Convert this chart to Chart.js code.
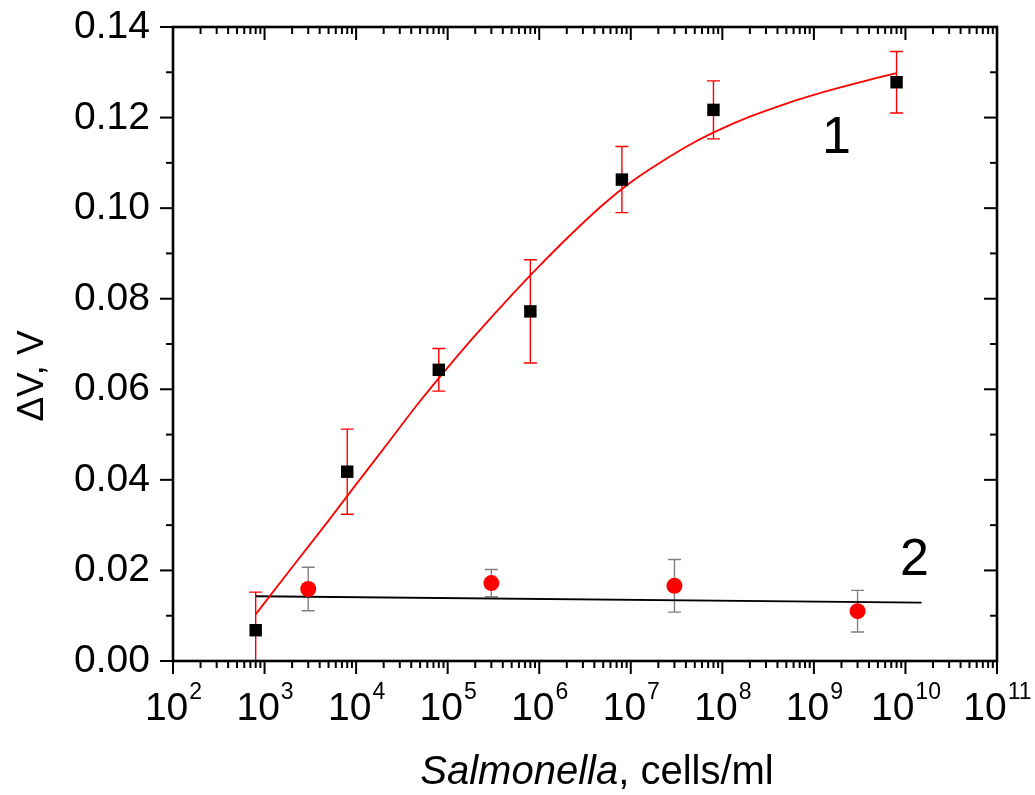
<!DOCTYPE html>
<html>
<head>
<meta charset="utf-8">
<title>Salmonella response</title>
<script src="https://cdn.jsdelivr.net/npm/chart.js@4.4.1/dist/chart.umd.min.js"></script>
<style>
    html, body { margin: 0; padding: 0; background: #fff; }
    canvas { display: block; }
</style>
</head>
<body>
<canvas id="responseChart" width="1035" height="795"></canvas>
<script>
// Curve 1: sensor response (mean and error)
const conc1 = [8e2, 8e3, 8e4, 8e5, 8e6, 8e7, 8e9];
const dv1 = [0.0068, 0.0418, 0.0643, 0.0772, 0.1063, 0.1217, 0.1278];
const err1 = [0.0084, 0.0094, 0.0047, 0.0114, 0.0073, 0.0064, 0.0068];

// Curve 2: control
const conc2 = [3e3, 3e5, 3e7, 3e9];
const dv2 = [0.0159, 0.0172, 0.0166, 0.0110];
const err2 = [0.0048, 0.0030, 0.0058, 0.0046];

// Fitted curves
const fit1X = [8e2, 2e3, 5e3, 1e4, 2e4, 5e4, 1e5, 2e5, 5e5, 1e6, 2e6, 5e6, 1e7, 2e7, 5e7, 1e8, 2e8, 5e8, 1e9, 2e9, 5e9, 8e9];
const fit1Y = [0.0103, 0.0207, 0.0310, 0.0390, 0.0469, 0.0574, 0.0648, 0.0719, 0.0808, 0.0872, 0.0933, 0.1008, 0.1057, 0.1098, 0.1146, 0.1176, 0.1202, 0.1231, 0.1250, 0.1267, 0.1288, 0.1298];
const fit2X = [8e2, 1.5e10];
const fit2Y = [0.0143, 0.0129];

// Axis ticks
const xExponents = [2, 3, 4, 5, 6, 7, 8, 9, 10, 11];
const yTicks = [0, 0.02, 0.04, 0.06, 0.08, 0.10, 0.12, 0.14];

const FONT = '"Liberation Sans", Arial, sans-serif';

function toPoints(xs, ys) {
    return xs.map((x, i) => ({ x: x, y: ys[i] }));
}

function drawErrorBars(ctx, xs, ys, errs, color, sx, sy) {
    ctx.strokeStyle = color;
    ctx.lineWidth = 1.4;
    for (let i = 0; i < xs.length; i++) {
        const px = sx.getPixelForValue(xs[i]);
        const top = sy.getPixelForValue(ys[i] + errs[i]);
        const bot = sy.getPixelForValue(ys[i] - errs[i]);
        ctx.beginPath();
        ctx.moveTo(px, top);
        ctx.lineTo(px, bot);
        ctx.moveTo(px - 6.5, top);
        ctx.lineTo(px + 6.5, top);
        ctx.moveTo(px - 6.5, bot);
        ctx.lineTo(px + 6.5, bot);
        ctx.stroke();
    }
}

function tickLine(ctx, x1, y1, x2, y2) {
    ctx.beginPath();
    ctx.moveTo(x1, y1);
    ctx.lineTo(x2, y2);
    ctx.stroke();
}

const errorBarPlugin = {
    id: 'errorBars',
    beforeDatasetsDraw(chart) {
        const { ctx, chartArea, scales } = chart;
        ctx.save();
        ctx.beginPath();
        ctx.rect(chartArea.left, chartArea.top, chartArea.right - chartArea.left, chartArea.bottom - chartArea.top);
        ctx.clip();
        drawErrorBars(ctx, conc1, dv1, err1, '#ff0000', scales.x, scales.y);
        drawErrorBars(ctx, conc2, dv2, err2, '#808080', scales.x, scales.y);
        ctx.restore();
    }
};

const axesPlugin = {
    id: 'boxAxes',
    afterDraw(chart) {
        const { ctx, chartArea: a, scales } = chart;
        const sx = scales.x, sy = scales.y;
        ctx.save();
        ctx.strokeStyle = '#000';
        ctx.fillStyle = '#000';

        // x ticks: outside at the bottom, inside at the top
        ctx.lineWidth = 2;
        for (let e = xExponents[0]; e <= xExponents[xExponents.length - 1]; e++) {
            const px = sx.getPixelForValue(Math.pow(10, e));
            tickLine(ctx, px, a.bottom, px, a.bottom + 13);
            tickLine(ctx, px, a.top, px, a.top + 13);
            if (e === xExponents[xExponents.length - 1]) break;
            for (let m = 2; m <= 9; m++) {
                const mx = sx.getPixelForValue(m * Math.pow(10, e));
                tickLine(ctx, mx, a.bottom, mx, a.bottom + 7);
                tickLine(ctx, mx, a.top, mx, a.top + 7);
            }
        }

        // y ticks: outside on the left, inside on the right
        yTicks.forEach((v, i) => {
            const py = sy.getPixelForValue(v);
            tickLine(ctx, a.left - 13, py, a.left, py);
            tickLine(ctx, a.right - 13, py, a.right, py);
            if (i < yTicks.length - 1) {
                const my = sy.getPixelForValue((v + yTicks[i + 1]) / 2);
                tickLine(ctx, a.left - 7, my, a.left, my);
                tickLine(ctx, a.right - 7, my, a.right, my);
            }
        });

        // frame
        ctx.lineWidth = 2.6;
        ctx.strokeRect(a.left, a.top, a.right - a.left, a.bottom - a.top);

        // y tick labels
        ctx.font = '39px ' + FONT;
        ctx.textAlign = 'right';
        ctx.textBaseline = 'alphabetic';
        yTicks.forEach(v => {
            ctx.fillText(v.toFixed(2), a.left - 23, sy.getPixelForValue(v) + 11);
        });

        // x tick labels as 10 with a raised exponent
        ctx.textAlign = 'left';
        xExponents.forEach(e => {
            const px = sx.getPixelForValue(Math.pow(10, e));
            ctx.font = '39px ' + FONT;
            const wBase = ctx.measureText('10').width;
            ctx.font = '23px ' + FONT;
            const wExp = ctx.measureText(String(e)).width;
            const start = px - (wBase + wExp) / 2;
            ctx.font = '39px ' + FONT;
            ctx.fillText('10', start, 720);
            ctx.font = '23px ' + FONT;
            ctx.fillText(String(e), start + wBase + 1, 699);
        });

        // x title: italic genus name followed by units
        ctx.font = 'italic 40px ' + FONT;
        const italicPart = 'Salmonella';
        const wItalic = ctx.measureText(italicPart).width;
        ctx.font = '40px ' + FONT;
        const restPart = ', cells/ml';
        const wRest = ctx.measureText(restPart).width;
        const tx = 597 - (wItalic + wRest) / 2;
        ctx.font = 'italic 40px ' + FONT;
        ctx.fillText(italicPart, tx, 784);
        ctx.font = '40px ' + FONT;
        ctx.fillText(restPart, tx + wItalic, 784);

        // y title
        ctx.save();
        ctx.translate(43, 376);
        ctx.rotate(-Math.PI / 2);
        ctx.textAlign = 'center';
        ctx.font = '37px ' + FONT;
        ctx.fillText('\u0394V, V', 0, 0);
        ctx.restore();

        // curve numbers
        ctx.font = '52px ' + FONT;
        ctx.textAlign = 'left';
        ctx.fillText('1', 822, 153);
        ctx.fillText('2', 900, 575);

        ctx.restore();
    }
};

const ctx = document.getElementById('responseChart').getContext('2d');

new Chart(ctx, {
    type: 'scatter',
    data: {
        datasets: [
            {
                label: '1',
                data: toPoints(conc1, dv1),
                pointStyle: 'rect',
                pointRadius: 8.8,
                backgroundColor: '#000',
                borderColor: '#000',
                borderWidth: 0,
                showLine: false
            },
            {
                label: '2',
                data: toPoints(conc2, dv2),
                pointStyle: 'circle',
                pointRadius: 8,
                backgroundColor: '#ff0000',
                borderColor: '#ff0000',
                borderWidth: 0,
                showLine: false
            },
            {
                label: 'fit 1',
                data: toPoints(fit1X, fit1Y),
                showLine: true,
                pointRadius: 0,
                borderColor: '#ff0000',
                borderWidth: 1.8,
                cubicInterpolationMode: 'monotone'
            },
            {
                label: 'fit 2',
                data: toPoints(fit2X, fit2Y),
                showLine: true,
                pointRadius: 0,
                borderColor: '#000',
                borderWidth: 1.8
            }
        ]
    },
    options: {
        responsive: false,
        animation: false,
        devicePixelRatio: 1,
        layout: {
            padding: { left: 173, right: 38, top: 27, bottom: 134 }
        },
        plugins: {
            legend: { display: false },
            tooltip: { enabled: false }
        },
        scales: {
            x: { type: 'logarithmic', min: 100, max: 1e11, display: false },
            y: { type: 'linear', min: 0, max: 0.14, display: false }
        }
    },
    plugins: [errorBarPlugin, axesPlugin]
});
</script>
</body>
</html>
